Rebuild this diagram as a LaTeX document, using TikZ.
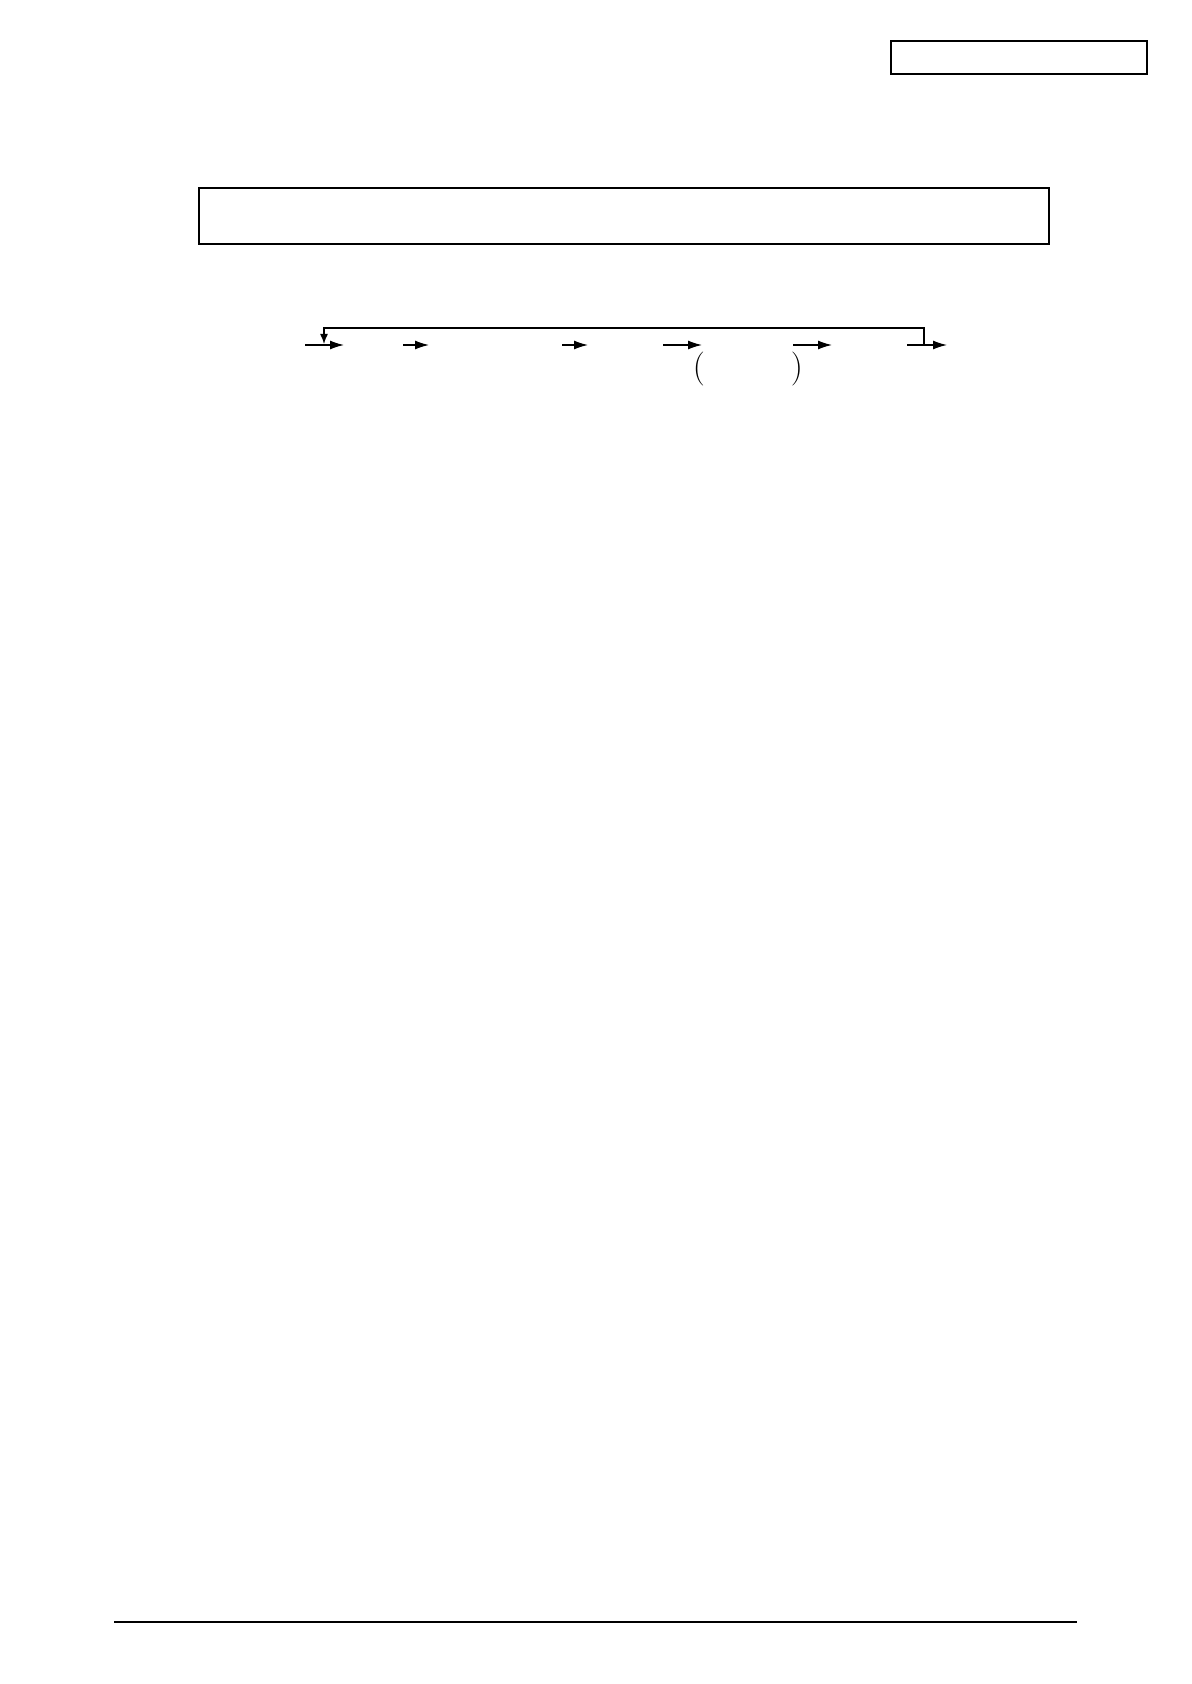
\documentclass[tikz,border=0pt]{standalone}
\usetikzlibrary{arrows.meta}
\tikzset{
  flow/.style={line width=0.7pt,-{Latex[length=7pt,width=4.5pt]}},
  paren/.style={inner sep=0pt,font=\fontsize{17}{17}\selectfont}
}
\begin{document}
\begin{tikzpicture}[x=0.5pt,y=-0.5pt]
  \useasboundingbox (0,0) rectangle (1191,1684);
  % page number box and heading box
  \draw[line width=0.7pt] (891,41) rectangle (1147,74);
  \draw[line width=1.2pt] (199,188) rectangle (1049,244);
  % flow line
  \coordinate (a1) at (305,345); \coordinate (b1) at (344,345);
  \coordinate (a2) at (403,345); \coordinate (b2) at (429,345);
  \coordinate (a3) at (562,345); \coordinate (b3) at (588,345);
  \coordinate (a4) at (663,345); \coordinate (b4) at (702,345);
  \coordinate (a5) at (793,345); \coordinate (b5) at (832,345);
  \coordinate (a6) at (907,345); \coordinate (b6) at (947,345);
  \draw[flow] (a1)--(b1);
  \draw[flow] (a2)--(b2);
  \draw[flow] (a3)--(b3);
  \draw[flow] (a4)--(b4);
  \draw[flow] (a5)--(b5);
  \draw[flow] (a6)--(b6);
  % return loop
  \coordinate (r1) at (924,345);
  \coordinate (r2) at (324,344);
  \draw[line width=0.7pt,-{Latex[length=5pt,width=4pt]}] (r1)--(924,328)--(324,328)--(r2);
  \node[paren] (lp) at (699,369) {(};
  \node[paren] (rp) at (797,369) {)};
  % footer rule
  \draw[line width=0.8pt] (114,1622)--(1077,1622);
\end{tikzpicture}
\end{document}
